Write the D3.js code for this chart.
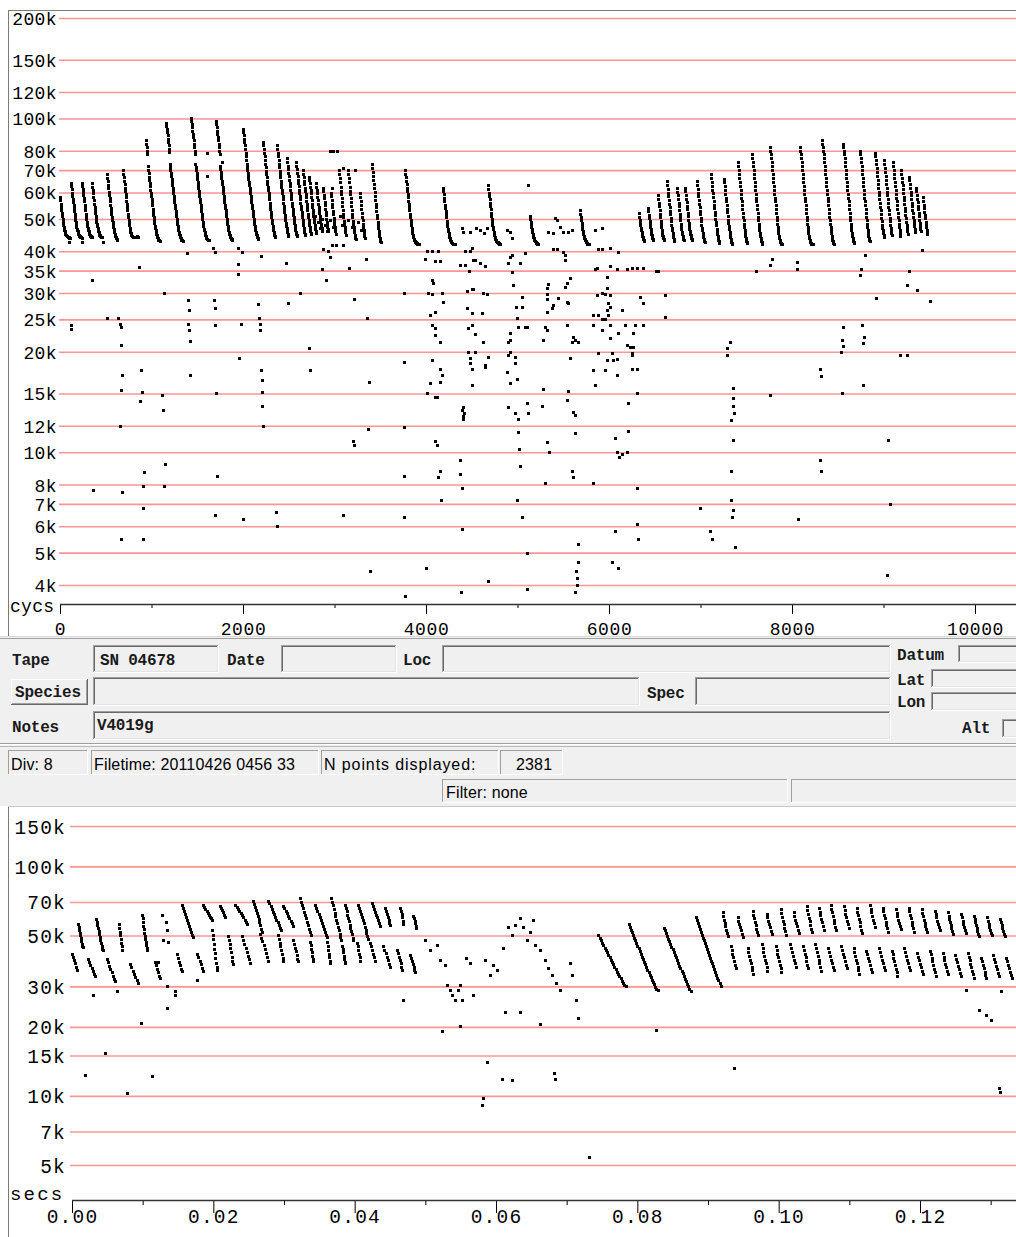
<!DOCTYPE html>
<html><head><meta charset="utf-8">
<script src="https://cdn.jsdelivr.net/npm/d3@7/dist/d3.min.js"></script>
<style>html,body{margin:0;padding:0;background:#fff;}svg{display:block;}</style>
</head><body>
<svg id="c" width="1016" height="1237"></svg>
<script>
// ---------------- DATA ----------------
const CYCLES_PER_POINT = 4;
const topYTicks = [200,150,120,100,80,70,60,50,40,35,30,25,20,15,12,10,8,7,6,5,4];
const topXTicks = [0,2000,4000,6000,8000,10000];
const topXMinor = [1000,3000,5000,7000,9000];
const botYTicks = [150,100,70,50,30,20,15,10,7,5];
const botXTicks = [0,20,40,60,80,100,120];       // ms
const botXMinor = [10,30,50,70,90,110,130];      // ms

// top view: [start cycle, frequencies (kHz) of consecutive points]
const topCalls = [
[0,[58,56.8,55.6,54.4,53.3,52.2,51.1,50,49,48.1,47.4,46.8,46.3,45.9,45.5,45.2,44.9,44.7,44.5,44.4,44.3,44.2,44.1,44,44,43.9,43.9]],
[120,[64,62.6,61.3,60,58.7,57.5,56.3,55.1,54,52.9,51.8,50.8,49.8,48.9,48.1,47.4,46.8,46.3,45.9,45.5,45.2,44.9,44.7,44.5,44.4,44.3,44.2,44.1,44,43.9]],
[240,[64,62.7,61.4,60.1,58.8,57.6,56.4,55.2,54.1,53,51.9,50.9,49.9,49,48.2,47.5,46.9,46.4,45.9,45.5,45.1,44.8,44.6,44.4,44.3,44.2,44.1,44]],
[350,[64,62.5,61,59.6,58.2,56.9,55.6,54.4,53.2,52.1,51,50,49,48.2,47.5,46.9,46.4,46,45.6,45.2,44.9,44.7,44.5,44.3,44.2,44.1,44]],
[514,[68,66.4,64.8,63.3,61.8,60.4,59,57.7,56.4,55.2,54,52.9,51.8,50.8,49.8,48.9,48.1,47.4,46.8,46.2,45.7,45.2,44.8,44.4,44.1,43.8,43.6,43.4,43.3]],
[689,[70,68.3,66.7,65.1,63.6,62.1,60.7,59.3,58,56.7,55.4,54.2,53,51.9,50.8,49.8,48.8,47.9,47.1,46.4,45.8,45.3,44.9,44.6,44.4,44.3,44.2,44.2,44.1,44.1,44,44,44,44.1,44.1,44.2,44.2,44.3,44.2,44.1,44]],
[940,[86,84,82,80,78,72,70,68.5,67,65.5,64,62.6,61.2,59.9,58.6,57.3,56.1,54.9,53.7,52.6,51.5,50.5,49.5,48.6,47.7,46.9,46.2,45.6,45.1,44.7,44.3,44,43.7,43.5,43.3,43.2,43.1,43]],
[1159,[97,95,93,91,89,87,85,83,81,79.5,73,71.5,70,68.6,67.2,65.9,64.6,63.3,62,60.8,59.6,58.4,57.2,56.1,55,53.9,52.9,51.9,50.9,50,49.1,48.3,47.5,46.8,46.2,45.6,45.1,44.7,44.3,44,43.7,43.5,43.3,43.2,43.1,43]],
[1432,[100,98,96,94,92,90,88,86,84,82,80,78,73,71.5,70,68.6,67.2,65.9,64.6,63.3,62,60.8,59.6,58.4,57.2,56.1,55,53.9,52.9,51.9,50.9,50,49.1,48.3,47.5,46.8,46.2,45.6,45.1,44.7,44.3,44,43.8,43.6,43.5,43.4,43.3,43.3,43.2,43.2]],
[1705,[98,96,94,92,90,88,86,84,82,80,78,72,70.5,69,67.6,66.2,64.9,63.6,62.3,61,59.8,58.6,57.4,56.2,55.1,54,53,52,51,50,49.1,48.3,47.5,46.8,46.2,45.7,45.2,44.8,44.4,44.1,43.9,43.7,43.5,43.4,43.3]],
[2000,[93,91,89,87,85,83,81,79,77,75,73,71.5,70,68.6,67.2,65.9,64.6,63.3,62,60.8,59.6,58.4,57.2,56.1,55,53.9,52.9,51.9,50.9,50,49.1,48.3,47.5,46.8,46.2,45.6,45.1,44.7,44.3,44,43.8,43.6]],
[2219,[85,83,81,79,77,75,73,71.3,69.7,68.1,66.6,65.1,63.7,62.3,61,59.7,58.4,57.2,56,54.8,53.7,52.6,51.5,50.5,49.5,48.6,47.7,46.9,46.2,45.6,45.1,44.7,44.4,44.2,44]],
[2372,[83,81,79,77,75,73,71.3,69.7,68.1,66.6,65.1,63.7,62.3,61,59.7,58.4,57.2,56,54.8,53.7,52.6,51.5,50.5,49.5,48.6,47.7,46.9,46.2,45.6,45.1,44.7,44.4]],
[2481,[76,74,72.2,70.5,68.8,67.2,65.6,64.1,62.6,61.2,59.8,58.5,57.2,56,54.8,53.7,52.6,51.5,50.5,49.5,48.6,47.8,47,46.3,45.7,45.2,44.8,44.5]],
[2580,[74,72.2,70.5,68.8,67.2,65.6,64.1,62.6,61.2,59.8,58.5,57.2,56,54.8,53.7,52.6,51.5,50.5,49.5,48.6,47.8,47,46.3,45.7,45.2,44.8]],
[2656,[70,68.3,66.7,65.1,63.6,62.1,60.7,59.3,58,56.7,55.4,54.2,53,51.9,50.8,49.8,48.9,48,47.2,46.5,45.9,45.4,45]],
[2722,[67,65.4,63.9,62.4,61,59.6,58.2,56.9,55.6,54.4,53.2,52.1,51,50,49,48.1,47.3,46.6,46,45.5]],
[2798,[64,62.5,61,59.6,58.2,56.9,55.6,54.4,53.2,52.1,51,50,49.1,48.3,47.6,47,46.5,46.1]],
[2875,[62,60.5,59,57.6,56.2,54.9,53.6,52.4,51.2,50.1,49.1,48.2,47.4,46.7,46.1]],
[2962,[60,58.5,57,55.6,54.2,52.9,51.6,50.4,49.3,48.3,47.4,46.6,45.9]],
[3050,[70,68,66.1,64.3,62.5,60.8,59.2,57.6,56.1,54.6,53.2,51.9,50.6,49.4,48.3,47.3,46.4,45.6,44.9]],
[3148,[70,68,66.1,64.3,62.5,60.8,59.2,57.6,56.1,54.6,53.2,51.9,50.6,49.4,48.3,47.3,46.4,45.6,44.9,44.3,43.8,43.4]],
[3279,[60,58.3,56.7,55.1,53.6,52.2,50.8,49.5,48.3,47.2,46.2,45.3,44.5,43.8]],
[3410,[73,71,69,67.1,65.3,63.5,61.8,60.2,58.6,57.1,55.6,54.2,52.8,51.5,50.2,49,47.9,46.9,46,45.2,44.5,43.9,43.4,43,42.7,42.5]],
[3771,[70,68.3,66.7,65.1,63.6,62.1,60.7,59.3,58,56.7,55.4,54.2,53,51.9,50.8,49.8,48.8,47.9,47,46.2,45.5,44.9,44.4,44,43.6,43.3,43,42.8,42.6,42.5,42.4,42.3,42.3,42.2,42.2,42.1,42.1,42,42]],
[4186,[62,60.6,59.2,57.8,56.5,55.2,54,52.8,51.6,50.5,49.4,48.4,47.5,46.7,46,45.3,44.7,44.2,43.8,43.4,43.1,42.9,42.7,42.5,42.4,42.3,42.2,42.2,42.1,42.1,42,42,42]],
[4678,[63,61.5,60,58.6,57.2,55.9,54.6,53.4,52.2,51.1,50,49,48.1,47.3,46.5,45.8,45.2,44.7,44.2,43.8,43.5,43.2,43,42.8,42.7,42.6,42.5,42.4,42.4,42.3,42.3,42.2,42.2]],
[5137,[51,50,49,48.1,47.3,46.5,45.8,45.2,44.7,44.2,43.8,43.5,43.2,43,42.8,42.6,42.5,42.4,42.3,42.2,42.2,42.1]],
[5684,[53,51.8,50.6,49.5,48.5,47.6,46.8,46.1,45.5,45,44.5,44.1,43.7,43.4,43.1,42.9,42.7,42.5,42.4,42.3,42.2,42.1,42.1,42]],
[6328,[52,50.8,49.7,48.7,47.8,47,46.3,45.6,45,44.5,44.1,43.7,43.4,43.2,43]],
[6427,[54,52.7,51.5,50.3,49.2,48.2,47.3,46.5,45.8,45.2,44.7,44.2,43.8,43.5,43.2]],
[6536,[59,57.5,56,54.6,53.2,51.9,50.6,49.4,48.3,47.3,46.4,45.6,44.9,44.3,43.8,43.4,43.1]],
[6634,[65,63.3,61.6,60,58.5,57,55.6,54.2,52.9,51.6,50.4,49.2,48.1,47.1,46.2,45.4,44.7,44.1,43.6,43.2,42.9]],
[6744,[62,60.4,58.8,57.3,55.9,54.5,53.2,51.9,50.7,49.5,48.4,47.4,46.5,45.7,45,44.4,43.9,43.5,43.2]],
[6831,[62,60.5,59,57.5,56.1,54.7,53.4,52.1,50.9,49.7,48.6,47.6,46.7,45.9,45.2,44.6,44.1,43.7,43.4,43.1]],
[6962,[65,63.3,61.6,60,58.5,57,55.6,54.2,52.9,51.6,50.4,49.2,48.1,47.1,46.2,45.4,44.7,44.1,43.6,43.2,42.9,42.7]],
[7115,[68,66.2,64.5,62.8,61.2,59.6,58.1,56.6,55.2,53.8,52.5,51.2,50,48.9,47.8,46.8,45.9,45.1,44.4,43.8,43.3,42.9,42.6,42.4]],
[7257,[66,64.3,62.6,61,59.4,57.9,56.4,55,53.6,52.3,51,49.8,48.7,47.6,46.6,45.7,44.9,44.2,43.6,43.1,42.7,42.4,42.2]],
[7410,[74,72,70,68.1,66.3,64.5,62.8,61.1,59.5,57.9,56.4,54.9,53.5,52.1,50.8,49.5,48.3,47.2,46.2,45.3,44.5,43.8,43.2,42.8,42.5,42.3]],
[7564,[78,76,74,72,70,68.1,66.3,64.5,62.8,61.1,59.5,57.9,56.4,54.9,53.5,52.1,50.8,49.5,48.3,47.2,46.2,45.3,44.5,43.8,43.2,42.8,42.5,42.3,42.2]],
[7760,[82,80,78,76,74,72,70,68.1,66.3,64.5,62.8,61.1,59.5,57.9,56.4,54.9,53.5,52.1,50.8,49.5,48.3,47.2,46.2,45.3,44.5,43.8,43.2,42.8,42.5,42.3,42.2,42.1,42]],
[8088,[82,80,78,76,74,72,70,68.1,66.3,64.5,62.8,61.1,59.5,57.9,56.4,54.9,53.5,52.1,50.8,49.5,48.3,47.2,46.2,45.3,44.5,43.8,43.3,42.9,42.6,42.4,42.3,42.2,42.2,42.1,42.1,42]],
[8329,[86,84,82,80,78,76,74,72,70,68.1,66.3,64.5,62.8,61.1,59.5,57.9,56.4,54.9,53.5,52.1,50.8,49.5,48.3,47.2,46.2,45.3,44.5,43.8,43.3,42.9,42.6,42.4,42.2,42.1]],
[8558,[84,82,80,78,76,74,72,70,68.1,66.3,64.5,62.8,61.1,59.5,57.9,56.4,54.9,53.5,52.1,50.8,49.5,48.3,47.2,46.2,45.3,44.5,43.8,43.3,42.9,42.6,42.4]],
[8744,[80,78,76,74,72,70,68.1,66.3,64.5,62.8,61.1,59.5,57.9,56.4,54.9,53.5,52.1,50.8,49.5,48.3,47.2,46.2,45.3,44.5,43.8,43.3,42.9]],
[8908,[79,77,75,73,71,69,67.2,65.4,63.7,62,60.4,58.8,57.3,55.8,54.4,53,51.7,50.4,49.2,48.1,47.1,46.2,45.4,44.7,44.1]],
[9006,[75,73,71,69,67.2,65.4,63.7,62,60.4,58.8,57.3,55.8,54.4,53,51.7,50.4,49.2,48.1,47.1,46.2,45.4,44.7]],
[9104,[74,72,70,68.1,66.3,64.5,62.8,61.1,59.5,57.9,56.4,54.9,53.5,52.1,50.8,49.5,48.3,47.2,46.2,45.3,44.5]],
[9192,[70,68.2,66.4,64.7,63,61.4,59.8,58.3,56.8,55.4,54,52.7,51.4,50.2,49,47.9,46.9,46,45.2]],
[9280,[67,65.3,63.6,62,60.4,58.9,57.4,56,54.6,53.3,52,50.8,49.6,48.5,47.5,46.6,45.8]],
[9356,[62,60.5,59,57.5,56.1,54.7,53.4,52.1,50.9,49.7,48.6,47.6,46.7,45.9]],
[9432,[58,56.6,55.2,53.9,52.6,51.4,50.2,49.1,48.1,47.2,46.4,45.7,45.1]]
];

// top view: isolated points [cycle, kHz]
const topNoise = [
[98,42.5],[240,42.5],[470,42.5],[350,32.8],[120,24],[120,23.4],[361,7.7],[514,25.3],[634,25.3],[656,24.3],[667,23.8],[667,21],[678,17],[667,15.4],[656,12],[678,7.6],[667,5.5],
[863,36],[885,17.6],[896,15.1],[874,14.2],[918,8.7],[907,7.9],[907,6.8],[907,5.5],[1115,14.8],[1137,30],[1126,13.4],[1148,9.2],[1137,7.9],
[1399,28.6],[1410,26.7],[1399,24.3],[1410,23.2],[1421,21.6],[1421,17],[1683,28.6],[1694,27],[1694,24],[1705,15],[1716,8.5],[1694,6.5],
[1946,36.6],[1946,34.2],[1957,19.1],[1978,24.3],[2000,6.3],[2164,27.8],[2175,25.3],[2186,24.3],[2186,23.2],[2197,17.6],[2208,16.4],[2208,15.2],[2208,13.8],[2219,12],[2361,6.6],[2372,6],
[2470,37],[2492,28],[2623,30],[2722,20.5],[2733,17.6],[2864,35.3],[2907,32.8],[2929,40],[3093,6.5],[3213,28.8],[3213,10.5],[3202,10.8],[3345,38],[3355,25.3],[3366,11.7],[3377,16.2],[3388,4.4],[3159,35.7],[3017,41.8],
[1388,39.5],[1672,41],[1694,39.8],[1946,41],[1989,39.8],[2197,38.7],[1607,67.4],[1607,78.6],[1771,74],
[2951,80],[2984,80],[3028,80],[3093,71],[3224,70],[2973,62],[5115,63],
[2787,51],[2820,49],[2842,47],[2864,50],[2896,48],[2918,46],[2951,49.5],[2984,47.3],[3017,45],[3060,51],[3082,48],[3115,46],[3148,49.5],[3191,47.3],[3224,44.7],[3257,49],[3290,46.3],[2875,40.7],[2973,41.8],[3093,41.8],[2951,38.5],
[3760,30],[3760,18.6],[3760,11.9],[3760,8.5],[3760,6.4],[3771,3.7],
[3990,37.8],[4011,40.2],[4066,40.2],[4132,40.2],[4099,37.3],[4153,37.3],[4066,32.8],[4077,32.1],[4022,30],[4066,29.8],[4175,30],[4186,28.1],[4044,25.8],[4099,26.3],[4066,24],[4099,23.5],[4099,22.4],[4153,21.4],[4066,18.9],[4153,17.8],[4175,17],[4153,16.2],[4044,16.1],[4011,15],[4099,14.6],[4121,14.6],
[4394,47],[4405,45.8],[4481,45.7],[4547,47],[4591,46.3],[4635,45.4],[4667,47],[4427,40],[4481,40.2],[4503,41],[4514,37.7],[4372,36.4],[4427,36.4],[4536,37.7],[4591,37],[4646,36.2],[4470,35],[4448,30.4],[4503,30.8],[4514,30.8],[4624,30],[4667,29.8],[4448,27],[4503,26.2],[4613,26.2],[4503,24],[4459,23.5],[4536,22.6],[4624,21.4],[4459,19.9],[4536,20],[4481,19.2],[4481,18.5],[4503,17.7],[4678,19.3],[4646,18.3],[4646,18],[4503,15.9],[4405,13.7],[4416,13.1],[4405,12.6],
[4886,46.3],[4919,45.7],[4940,43.9],[4919,38.4],[4940,39],[4897,37],[5028,37],[4940,34.6],[4951,31.7],[5082,39.5],[5050,29.2],[5050,27.2],[4984,27.2],[4995,25.3],[5006,23.8],[5082,23.8],[5104,23.8],[4919,22.8],[4919,21.7],[4897,21.4],[4919,20],[4897,19.6],[4973,19.3],[4973,18.5],[4886,17.4],[4995,16.6],[4919,16.1],[4897,13.7],[4973,13.1],[5006,12.6],[5104,14],[5115,13.1],[5279,15.5],[5268,13.8],
[5334,45.7],[5388,45.4],[5410,50.2],[5465,47.3],[5498,45.7],[5552,45.7],[5596,46.3],[5432,49.5],[5388,40.7],[5432,40.5],[5498,39.7],[5520,39],[5520,37.7],[5574,33.2],[5542,32.1],[5520,31.2],[5323,31],[5334,31.9],[5323,29.8],[5323,28.8],[5443,29],[5542,28.2],[5552,28],[5388,27.6],[5378,27],[5323,26.3],[5542,24],[5301,23.7],[5323,23.2],[5607,22.1],[5629,21.7],[5662,21.4],[5596,21.4],[5279,21.7],[5574,19.2],[5552,15.3],[5542,14.3],[5607,13.2],[5629,12.9],
[5848,46.3],[5924,47],[5880,40.7],[5924,40.7],[6012,41],[6099,39.8],[5848,35.5],[5869,35.7],[6012,36.2],[6088,35.5],[6197,35.5],[6252,35.7],[6307,35.7],[6372,35.7],[6536,35],[5979,33.6],[5869,29.5],[5924,30],[5957,29.8],[6012,29.5],[5979,31],[5990,28],[6012,27.2],[5826,25.8],[5880,25.8],[5924,25],[5957,25],[5990,25.8],[5979,26.7],[6143,26.7],[5826,24],[5924,23.2],[6012,24],[6099,22.7],[6175,24],[6285,24],[6372,24],[6263,22.7],[6012,22],[6197,21],[6230,20.7],[6263,20.6],[6252,19.8],[6252,19.5],[5880,19.8],[5979,18.9],[6033,19.8],[6044,18.9],[6088,19],[5826,17.6],[5957,17.6],[6088,17],[5848,15.9],[6252,17.8],[6307,17.8],[6208,14],[6307,15],[6339,29.1],[6372,28],[6613,29.5],[6613,25.5],
[4099,10.8],[4121,10.5],[4153,8.8],[4132,8.4],[4164,7.2],[4000,4.5],[4394,13.4],[4405,12.8],[4372,9.5],[4372,8.6],[4394,7.8],[4394,5.9],[4383,3.8],[4678,4.1],[5006,11.5],[5017,10.2],[5028,9.1],[4995,7.2],[5050,6.4],[5104,5],[5104,3.9],[5323,10.7],[5345,10],[5301,8.1],[5629,11.4],[5596,8.8],[5607,8.4],[5662,5.3],[5662,4.7],[5640,4.4],[5651,4.2],[5651,4],[5629,3.8],[5826,8.1],[6066,11],[6088,10],[6110,9.7],[6143,9.9],[6197,10],[6208,11.6],[6307,7.8],[6307,6.1],[6318,5.5],[6066,5.8],[6099,4.5],[6033,4.7],
[6514,35],[6995,6.8],[7126,5.5],[7104,5.8],[7290,20.5],[7290,19.5],[7323,21.4],[7334,12.5],[7334,8.8],[7334,7.2],[7345,6.4],[7356,6.7],[7378,5.2],[7356,15.6],[7356,14.5],[7356,13.8],[7367,13.1],[7356,10.9],[7607,35],[7760,36.4],[7782,38],[8056,35.5],[8056,37.2],[8067,6.3],[7760,14.8],[8307,17.8],[8318,16.9],[8307,9.5],[8318,8.8],[8558,23.7],[8547,21.7],[8558,20.8],[8536,20],[8547,15],[8766,24],[8777,21.2],[8788,22.1],[8799,39],[8755,35.5],[8744,34],[8777,15.9],[8918,29],[9039,4.3],[9050,10.9],[9072,7],[9181,19.5],[9258,19.5],[9258,31.7],[9367,30.7],[9509,28.3],[9280,35],[9421,40.3]
];

// bottom view: [start ms, end ms, frequencies (kHz) of the points of one sweep]
const botCalls = [
[0.85,1.56,[56,54.5,53,51.5,50,48.6,47.3,46,45,44.5]],
[3.40,4.39,[59,57.2,55.5,53.8,52.2,50.6,49.1,47.7,46.3,45,43.8,43.2]],
[6.66,7.08,[56,54,52,50,48.2,46.5,44.8,43.4]],
[9.92,10.62,[61.5,59.3,57.2,55.2,53.3,51.5,49.8,48.2,46.7,45.3,44.2,43.2]],
[15.58,17.14,[68,66,64,62,60.2,58.4,56.7,55,53.4,51.9,50.4,49.2]],
[18.56,19.83,[68,66.7,65.4,64.1,62.9,61.7,60.5,59.4,58.3]],
[20.96,21.67,[67.5,66,64.5,63,61.6,60.3]],
[23.09,24.79,[68,66.6,65.2,63.8,62.5,61.2,59.9,58.6,57.3,56]],
[25.64,26.91,[70.5,68.4,66.4,64.4,62.5,60.6,58.8,57,55.3,53.6,52]],
[27.76,29.6,[71,69.1,67.2,65.4,63.6,61.9,60.2,58.6,57,55.5,54,52.6]],
[29.89,31.3,[67.5,65.8,64.1,62.5,60.9,59.4,57.9,56.5,55.1]],
[32.29,33.85,[72.5,70.1,67.8,65.6,63.4,61.3,59.3,57.3,55.4,53.6,51.8,50.2]],
[34.42,36.12,[68,66,64.1,62.2,60.4,58.6,56.9,55.2,53.6,52,50.5,49.5]],
[36.69,38.1,[72.5,70,67.6,65.2,62.9,60.7,58.6,56.6,54.6,52.7,50.9,49.2,47.6]],
[38.67,39.8,[68,65.8,63.7,61.6,59.6,57.7,55.8,54,52.3,50.6,49,47.8]],
[40.51,41.93,[68,65.9,63.9,61.9,60,58.2,56.4,54.7,53,51.4,49.8,48.3]],
[42.49,43.63,[69,67.1,65.2,63.4,61.6,59.9,58.2,56.6,55]],
[44.33,45.04,[66,64,62,60.1,58.3,56.5,55.6]],
[46.46,46.88,[66,64,62,60,58,56.2]],
[48.3,48.73,[61,59.5,58,56.5,55,54]],
[19.83,20.54,[52.8,50.4,48.1,45.9,43.8,41.8,39.9,38.1,36.4,35.4]],
[22.1,22.8,[49.6,47.6,45.7,43.9,42.2,40.5,38.9,37.4]],
[24.08,25.21,[49.6,47.7,45.9,44.2,42.5,40.9,39.4,38]],
[26.63,27.76,[51,49,47.1,45.3,43.5,41.8,40.2,38.6]],
[29.18,29.89,[50.3,48.4,46.6,44.9,43.2,41.6,40,38.6]],
[31.3,32.01,[47.8,46,44.3,42.7,41.1,39.6,38.6]],
[33.71,34.14,[47,45.4,43.8,42.3,40.8,39.4,38.6]],
[36.12,36.54,[46.8,45,43.3,41.7,40.1,38.6,38]],
[38.24,38.67,[45,43.6,42.2,40.9,39.6,38.4,38]],
[40.37,40.79,[46.5,44.8,43.2,41.6,40.1,38.6]],
[42.21,42.92,[46.5,44.8,43.2,41.6,40.1,38.6]],
[44.05,45.04,[45,43.4,41.9,40.4,39,37.6,36.5]],
[46.03,46.74,[43.2,41.8,40.4,39.1,37.8,36.5,35.4]],
[47.88,48.58,[41,39.8,38.6,37.4,36.3,35.2,34.6]],
[0,0.71,[41.5,40.2,39,37.8,36.6,35.5]],
[2.27,3.26,[39.5,38.3,37.1,36,34.9,33.9,33.2]],
[4.96,6.09,[39.5,38.2,36.9,35.7,34.5,33.4,32.4,31.6]],
[8.22,9.35,[37.5,36.3,35.1,34,32.9,31.9,31.2]],
[11.76,12.46,[38.5,37.1,35.8,34.5,33.3,32.5]],
[14.87,15.58,[41.5,40,38.5,37.1,35.8,35]],
[17.71,18.56,[41.5,40.1,38.8,37.5,36.2,35]],
[74.5,78.33,[50,48.8,47.6,46.5,45.4,44.3,43.2,42.2,41.2,40.2,39.2,38.3,37.4,36.5,35.6,34.8,34,33.2,32.5,31.8,31.1,30.5,30]],
[78.75,82.86,[56,54.5,53,51.6,50.2,48.9,47.6,46.3,45.1,43.9,42.7,41.6,40.5,39.4,38.4,37.4,36.4,35.5,34.6,33.7,32.9,32.1,31.3,30.6,29.9,29.3,28.8]],
[83.71,87.54,[54,52.6,51.2,49.8,48.5,47.2,45.9,44.7,43.5,42.3,41.2,40.1,39,38,37,36,35.1,34.2,33.3,32.4,31.6,30.8,30,29.3,28.6]],
[88.24,91.78,[60,58.3,56.6,55,53.4,51.9,50.4,49,47.6,46.2,44.9,43.6,42.4,41.2,40,38.9,37.8,36.7,35.7,34.7,33.7,32.8,31.9,31,30.2]],
[92.07,92.78,[63,60.8,58.7,56.7,54.8,53,51.3,49.7]],
[94.19,94.9,[60,58,56.1,54.3,52.6,51,49.5]],
[96.32,97.03,[64,61.7,59.5,57.4,55.4,53.5,51.7,50]],
[98.3,99.01,[62,59.9,57.9,56,54.2,52.5,50.9]],
[100.28,100.99,[65,62.6,60.3,58.1,56,54,52.1,50.3]],
[102.12,102.83,[63,60.8,58.7,56.7,54.8,53,51.3]],
[103.97,104.67,[67,64.5,62.1,59.8,57.6,55.5,53.5,51.6]],
[105.67,106.37,[66,63.6,61.3,59.1,57,55,53.1]],
[107.37,108.07,[68,65.5,63.1,60.8,58.6,56.5,54.5,52.6]],
[109.21,109.92,[67,64.6,62.3,60.1,58,56,54.1]],
[111.05,111.76,[66,63.6,61.3,59.1,57,55,53.1,51.3]],
[112.89,113.6,[68,65.5,63.1,60.8,58.6,56.5,54.5]],
[114.73,115.44,[66,63.7,61.5,59.4,57.4,55.5,53.7,52]],
[116.57,117.28,[65,62.8,60.7,58.7,56.8,55,53.3]],
[118.41,119.12,[66,63.7,61.5,59.4,57.4,55.5,53.7,52]],
[120.25,120.96,[65,62.8,60.7,58.7,56.8,55,53.3,51.7]],
[122.1,122.8,[64,61.9,59.9,58,56.2,54.5,52.9]],
[123.94,124.65,[63,61,59.1,57.3,55.6,54,52.5,51]],
[125.78,126.49,[62,60,58.1,56.3,54.6,53,51.5]],
[127.62,128.33,[61,59.1,57.3,55.6,54,52.5,51,49.6]],
[129.46,130.17,[60,58.1,56.3,54.6,53,51.5,50]],
[131.3,132.01,[59,57.2,55.5,53.9,52.4,51,49.6]],
[93.2,94.0,[45,43.3,41.7,40.2,38.7,37.3,36]],
[95.6,96.4,[44,42.4,40.8,39.3,37.9,36.5,35.2,34]],
[97.6,98.4,[46,44.2,42.5,40.9,39.3,37.8,36.4,35]],
[99.6,100.4,[45,43.3,41.7,40.2,38.7,37.3,36,34.7]],
[101.6,102.4,[46,44.2,42.5,40.9,39.3,37.8,36.4]],
[103.4,104.2,[45,43.3,41.7,40.2,38.7,37.3,36]],
[105.2,106,[46,44.2,42.5,40.9,39.3,37.8,36.4,35]],
[107,107.8,[44,42.4,40.8,39.3,37.9,36.5,35.2]],
[108.8,109.6,[45,43.3,41.7,40.2,38.7,37.3,36]],
[110.6,111.4,[44,42.4,40.8,39.3,37.9,36.5,35.2,34]],
[112.4,113.2,[43,41.5,40,38.6,37.2,35.9,34.6]],
[114.2,115,[44,42.4,40.8,39.3,37.9,36.5,35.2]],
[116,116.8,[43,41.5,40,38.6,37.2,35.9,34.6,33.4]],
[117.8,118.6,[44,42.4,40.8,39.3,37.9,36.5,35.2]],
[119.6,120.4,[42,40.5,39.1,37.7,36.4,35.1,33.9]],
[121.4,122.2,[43,41.5,40,38.6,37.2,35.9,34.6,33.4]],
[123.2,124,[42,40.5,39.1,37.7,36.4,35.1,33.9]],
[125,125.8,[41,39.6,38.2,36.9,35.6,34.4,33.2]],
[126.8,127.6,[42,40.5,39.1,37.7,36.4,35.1,33.9,32.7]],
[128.6,129.4,[40,38.6,37.3,36,34.8,33.6,32.5]],
[130.4,131.2,[41,39.6,38.2,36.9,35.6,34.4,33.2]],
[132.2,133,[40,38.6,37.3,36,34.8,33.6,32.5]]
];

// bottom view: isolated points [ms, kHz]
const botNoise = [
[13.46,30.2],[14.59,28.6],[14.59,27.6],[13.46,24.1],[2.97,27.6],[6.37,28.6],[17.71,32],[46.88,26.2],
[12.75,61.5],[13.31,57],[13.46,52.8],[12.89,47.8],[13.6,47],[12.18,38.3],
[1.84,12.3],[4.67,15.4],[7.79,10.3],[11.33,12.2],[9.77,20.8],
[50,47.8],[50.71,43.2],[51.7,45.5],[52.12,39.1],[52.83,37.2],[53.12,30.4],[53.54,28.9],[53.82,27.5],[54.25,26.2],[54.67,28.9],[54.96,30.4],[55.24,26.2],[52.41,19.2],[54.96,20.1],[55.81,39.9],[56.37,38],[56.8,27.5],
[58.5,39.1],[59.21,33.7],[59.63,37.2],[60.2,35.4],[61.05,44.2],[61.76,54.3],[62.32,50.5],[62.75,55.5],[63.46,59.6],[63.88,54.3],[64.45,47.8],[64.87,51.9],[65.3,58.4],[65.58,45.5],[66.29,43.2],[67,39.1],[67.42,36.1],[67.99,33.7],[68.56,31],[69.12,28.9],[70.54,38],[70.82,33.7],[71.39,26.2],[71.67,21.8],
[61.33,23.3],[63.46,23.3],[66.29,20.6],[58.22,9.8],[58.07,9.1],[58.78,14],[60.91,11.9],[62.32,11.7],[68.27,12.6],[68.41,11.9],[73.23,5.4],[82.58,19.3],[93.63,13.2],
[128.3,23.7],[129.3,22.5],[130,21.4],[131.2,10.8],[131.3,10.4],[126.5,28.9],[131.4,28.6]
];

// form panel texts
const formLabels = ["Tape","Date","Loc","Spec","Notes","Datum","Lat","Lon","Alt"];
const formValues = {tape:"SN 04678", notes:"V4019g"};
const statusTexts = ["Div: 8","Filetime: 20110426 0456 33","N points displayed:","2381","Filter: none"];

// ---------------- DRAW ----------------
const svg = d3.select('#c');
const MONO = "'Liberation Mono','DejaVu Sans Mono',monospace";
const SANS = "'Liberation Sans',Arial,sans-serif";
const GRID = '#ff9595';

svg.append('rect').attr('x',0).attr('y',0).attr('width',1016).attr('height',1237).attr('fill','#fff');

// ---- top chart frame
svg.append('line').attr('x1',8.5).attr('x2',8.5).attr('y1',10).attr('y2',636).attr('stroke','#7a7a7a');
svg.append('line').attr('x1',8).attr('x2',1016).attr('y1',10.5).attr('y2',10.5).attr('stroke','#7a7a7a');

const yTop = d3.scaleLog().domain([200,4]).range([18,585]);
const xTop = d3.scaleLinear().domain([0,10000]).range([60,975]);

const gTy = svg.append('g').attr('transform','translate(59,0)')
  .call(d3.axisLeft(yTop).tickValues(topYTicks).tickFormat(d=>d+'k').tickSizeInner(-(1016-59)).tickSizeOuter(0).tickPadding(2));
gTy.select('.domain').remove();
gTy.selectAll('.tick line').attr('stroke',GRID).attr('stroke-width',1.6);
gTy.selectAll('.tick text').attr('font-family',MONO).attr('font-size',18).attr('letter-spacing','0.4px').attr('fill','#000').attr('dy','0.36em');

const gTx = svg.append('g').attr('transform','translate(0,604)')
  .call(d3.axisBottom(xTop).tickValues(topXTicks).tickSizeInner(10).tickSizeOuter(0).tickFormat(d3.format('d')));
gTx.select('.domain').remove();
gTx.selectAll('.tick line').attr('stroke','#000');
gTx.selectAll('.tick text').attr('font-family',MONO).attr('font-size',18).attr('letter-spacing','0.6px').attr('fill','#000').attr('y',31).attr('dy',0);
const gTxm = svg.append('g').attr('transform','translate(0,604)')
  .call(d3.axisBottom(xTop).tickValues(topXMinor).tickSizeInner(4).tickSizeOuter(0).tickFormat(''));
gTxm.select('.domain').remove();
gTxm.selectAll('.tick line').attr('stroke','#000');
svg.append('line').attr('x1',60).attr('x2',1016).attr('y1',604.5).attr('y2',604.5).attr('stroke','#333').attr('stroke-width',1.4);
svg.append('text').attr('x',10).attr('y',612).attr('font-family',MONO).attr('font-size',18).attr('letter-spacing','0.3px').text('cycs');

const topPts = [];
topCalls.forEach(([c0,fs]) => fs.forEach((f,i) => topPts.push([c0 + i*CYCLES_PER_POINT, f])));
topNoise.forEach(p => topPts.push(p));
svg.append('g').attr('shape-rendering','crispEdges').selectAll('rect').data(topPts).join('rect')
  .attr('x',d=>Math.round(xTop(d[0]))-1).attr('y',d=>Math.round(yTop(d[1]))-1)
  .attr('width',3).attr('height',3).attr('fill','#000');

// ---- panel
const P = svg.append('g');
P.append('rect').attr('x',0).attr('y',637).attr('width',1016).attr('height',169).attr('fill','#f0f0f0');
P.append('line').attr('x1',0).attr('x2',1016).attr('y1',636.5).attr('y2',636.5).attr('stroke','#d8d8d8');
P.append('line').attr('x1',0).attr('x2',1016).attr('y1',638.5).attr('y2',638.5).attr('stroke','#a0a0a0');
P.append('line').attr('x1',0).attr('x2',1016).attr('y1',743.5).attr('y2',743.5).attr('stroke','#a0a0a0');
P.append('line').attr('x1',0).attr('x2',1016).attr('y1',744.5).attr('y2',744.5).attr('stroke','#ffffff');
P.append('line').attr('x1',0).attr('x2',1016).attr('y1',746.5).attr('y2',746.5).attr('stroke','#b8b8b8');

function sunken(x,y,w,h){
  const g=P.append('g').attr('shape-rendering','crispEdges');
  g.append('rect').attr('x',x).attr('y',y).attr('width',w).attr('height',h).attr('fill','#f0f0f0');
  g.append('rect').attr('x',x).attr('y',y).attr('width',w).attr('height',1).attr('fill','#a0a0a0');
  g.append('rect').attr('x',x).attr('y',y).attr('width',1).attr('height',h).attr('fill','#a0a0a0');
  g.append('rect').attr('x',x+1).attr('y',y+1).attr('width',w-2).attr('height',1).attr('fill','#696969');
  g.append('rect').attr('x',x+1).attr('y',y+1).attr('width',1).attr('height',h-2).attr('fill','#696969');
  g.append('rect').attr('x',x).attr('y',y+h-1).attr('width',w).attr('height',1).attr('fill','#ffffff');
  g.append('rect').attr('x',x+w-1).attr('y',y).attr('width',1).attr('height',h).attr('fill','#ffffff');
  g.append('rect').attr('x',x+1).attr('y',y+h-2).attr('width',w-2).attr('height',1).attr('fill','#e3e3e3');
  g.append('rect').attr('x',x+w-2).attr('y',y+1).attr('width',1).attr('height',h-2).attr('fill','#e3e3e3');
}
function thin(x,y,w,h){
  const g=P.append('g').attr('shape-rendering','crispEdges');
  g.append('rect').attr('x',x).attr('y',y).attr('width',w).attr('height',h).attr('fill','#f0f0f0');
  g.append('rect').attr('x',x).attr('y',y).attr('width',w).attr('height',1).attr('fill','#a0a0a0');
  g.append('rect').attr('x',x).attr('y',y).attr('width',1).attr('height',h).attr('fill','#a0a0a0');
  g.append('rect').attr('x',x).attr('y',y+h-1).attr('width',w).attr('height',1).attr('fill','#ffffff');
  g.append('rect').attr('x',x+w-1).attr('y',y).attr('width',1).attr('height',h).attr('fill','#ffffff');
}
function raised(x,y,w,h){
  const g=P.append('g').attr('shape-rendering','crispEdges');
  g.append('rect').attr('x',x).attr('y',y).attr('width',w).attr('height',h).attr('fill','#f0f0f0');
  g.append('rect').attr('x',x).attr('y',y).attr('width',w).attr('height',1).attr('fill','#ffffff');
  g.append('rect').attr('x',x).attr('y',y).attr('width',1).attr('height',h).attr('fill','#ffffff');
  g.append('rect').attr('x',x).attr('y',y+h-1).attr('width',w).attr('height',1).attr('fill','#696969');
  g.append('rect').attr('x',x+w-1).attr('y',y).attr('width',1).attr('height',h).attr('fill','#696969');
  g.append('rect').attr('x',x+1).attr('y',y+h-2).attr('width',w-2).attr('height',1).attr('fill','#a0a0a0');
  g.append('rect').attr('x',x+w-2).attr('y',y+1).attr('width',1).attr('height',h-2).attr('fill','#a0a0a0');
}
function txt(x,y,s,font,size,extra){
  const t=P.append('text').attr('x',x).attr('y',y).attr('font-family',font).attr('font-size',size).attr('fill','#000').text(s);
  if(extra) extra(t);
  return t;
}
sunken(93,645,126,28); sunken(281,645,116,28); sunken(442,645,449,28);
sunken(958,645,60,18); sunken(931,669,87,19); sunken(931,692,87,19); sunken(1002,719,16,19);
raised(11,679,77,26);
sunken(93,677,547,29); sunken(695,677,196,29);
sunken(93,711,798,29);
const courier = t=>t.attr('font-weight','bold').attr('fill','#1a1a1a').attr('letter-spacing','-0.2px');
txt(12,665,formLabels[0],MONO,16,courier);
txt(100,665,formValues.tape,MONO,16,courier);
txt(227,665,formLabels[1],MONO,16,courier);
txt(403,665,formLabels[2],MONO,16,courier);
txt(15,697,'Species',MONO,16,courier);
txt(647,698,formLabels[3],MONO,16,courier);
txt(12,732,formLabels[4],MONO,16,courier);
txt(97,730,formValues.notes,MONO,16,courier);
txt(897,660,formLabels[5],MONO,16,courier);
txt(897,685,formLabels[6],MONO,16,courier);
txt(897,707,formLabels[7],MONO,16,courier);
txt(962,733,formLabels[8],MONO,16,courier);

thin(8,750,80,25); thin(91,750,228,25); thin(321,750,178,25); thin(500,750,63,25);
thin(442,779,346,24); thin(791,779,226,24);
const sp = t=>t.attr('letter-spacing','0.15px');
txt(11,770,statusTexts[0],SANS,16,sp);
txt(94,770,statusTexts[1],SANS,16,sp);
txt(324,770,statusTexts[2],SANS,16,t=>t.attr('letter-spacing','0.9px'));
txt(516,770,statusTexts[3],SANS,16,sp);
txt(446,798,statusTexts[4],SANS,16,sp);

// ---- bottom chart
svg.append('rect').attr('x',8).attr('y',806).attr('width',1008).attr('height',431).attr('fill','#fff');
svg.append('line').attr('x1',8.5).attr('x2',8.5).attr('y1',806).attr('y2',1237).attr('stroke','#7a7a7a');
svg.append('line').attr('x1',8).attr('x2',1016).attr('y1',806.5).attr('y2',806.5).attr('stroke','#c8c8c8');

const yBot = d3.scaleLog().domain([150,5]).range([826,1165]);
const xBot = d3.scaleLinear().domain([0,120]).range([72,920]);

const gBy = svg.append('g').attr('transform','translate(70,0)')
  .call(d3.axisLeft(yBot).tickValues(botYTicks).tickFormat(d=>d+'k').tickSizeInner(-(1016-70)).tickSizeOuter(0).tickPadding(4));
gBy.select('.domain').remove();
gBy.selectAll('.tick line').attr('stroke',GRID).attr('stroke-width',1.6);
gBy.selectAll('.tick text').attr('font-family',MONO).attr('font-size',19.5).attr('letter-spacing','1.2px').attr('fill','#000').attr('dy','0.36em');

const gBx = svg.append('g').attr('transform','translate(0,1200)')
  .call(d3.axisBottom(xBot).tickValues(botXTicks).tickSizeInner(13).tickSizeOuter(0).tickFormat(d=>(d/1000).toFixed(2)));
gBx.select('.domain').remove();
gBx.selectAll('.tick line').attr('stroke','#000');
gBx.selectAll('.tick text').attr('font-family',MONO).attr('font-size',19.5).attr('letter-spacing','1.2px').attr('fill','#000').attr('y',23).attr('dy',0);
const gBxm = svg.append('g').attr('transform','translate(0,1200)')
  .call(d3.axisBottom(xBot).tickValues(botXMinor).tickSizeInner(5).tickSizeOuter(0).tickFormat(''));
gBxm.select('.domain').remove();
gBxm.selectAll('.tick line').attr('stroke','#000');
svg.append('line').attr('x1',72).attr('x2',1016).attr('y1',1200.5).attr('y2',1200.5).attr('stroke','#333').attr('stroke-width',1.4);
svg.append('text').attr('x',10).attr('y',1200).attr('font-family',MONO).attr('font-size',19).attr('letter-spacing','2.2px').text('secs');

const botPts = [];
botCalls.forEach(([t0,t1,fs]) => fs.forEach((f,i) => botPts.push([t0 + (t1-t0)*i/(fs.length-1), f])));
botNoise.forEach(p => botPts.push(p));
svg.append('g').attr('shape-rendering','crispEdges').selectAll('rect').data(botPts.filter(d=>xBot(d[0])<1016)).join('rect')
  .attr('x',d=>Math.round(xBot(d[0]))-1).attr('y',d=>Math.round(yBot(d[1]))-1)
  .attr('width',3).attr('height',3).attr('fill','#000');
</script>
</body></html>
